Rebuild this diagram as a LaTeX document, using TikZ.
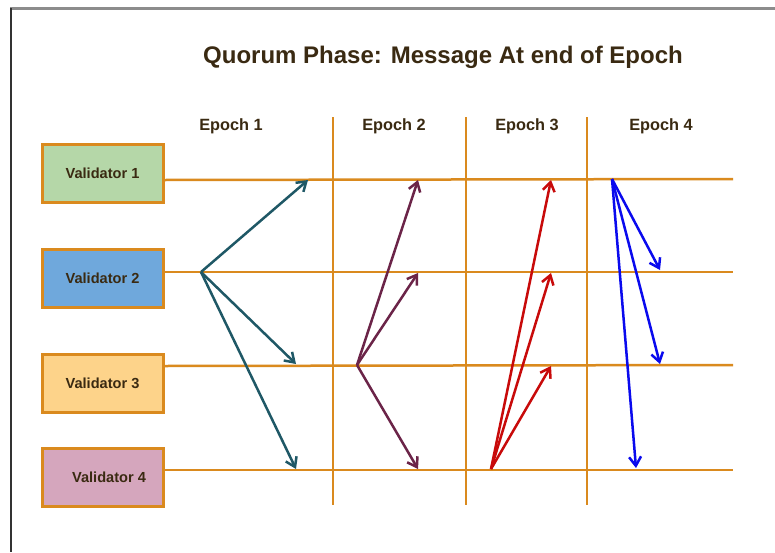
\documentclass[tikz,border=0pt]{standalone}
\usepackage{fontspec}
\setmainfont{Liberation Sans}
\usetikzlibrary{arrows.meta}
\definecolor{lane}{HTML}{DA8A1E}
\definecolor{txt}{HTML}{3A2A12}
\definecolor{cteal}{HTML}{1F5866}
\definecolor{cpurp}{HTML}{6B2448}
\definecolor{cred}{HTML}{C80A0A}
\definecolor{cblue}{HTML}{0A0AEE}
\definecolor{fa}{HTML}{B5D7A8}
\definecolor{fb}{HTML}{6FA8DC}
\definecolor{fc}{HTML}{FDD38A}
\definecolor{fd}{HTML}{D5A6BD}
\tikzset{
  valbox/.style={draw=lane, line width=3pt, minimum width=121pt, minimum height=58pt, inner sep=0pt, font=\bfseries\fontsize{14.6}{17}\selectfont, text=txt},
  laneline/.style={draw=lane, line width=2.5pt},
  epochlbl/.style={font=\bfseries\fontsize{16.3}{19}\selectfont, text=txt},
  msg/.style={line width=2.5pt, -{Straight Barb[length=9pt,width=12pt,line width=2.5pt]}},
}
\begin{document}
\begin{tikzpicture}[x=1pt,y=-1pt]
\useasboundingbox (0,0) rectangle (775,552);
\fill[white] (0,0) rectangle (775,552);
\draw[draw=gray!90, line width=3pt] (10,8) -- (775,8);
\draw[draw=black!80, line width=1.5pt] (11,8) -- (11,552);
\node[font=\bfseries\fontsize{24}{28}\selectfont, text=txt] (title) at (443,57) {Quorum Phase: Message At end of Epoch};
\node[epochlbl] (e1) at (231,126) {Epoch 1};
\node[epochlbl] (e2) at (394,126) {Epoch 2};
\node[epochlbl] (e3) at (527,126) {Epoch 3};
\node[epochlbl] (e4) at (661,126) {Epoch 4};
% vertical separators
\coordinate (s1t) at (333,117); \coordinate (s1b) at (333,505);
\coordinate (s2t) at (466,117); \coordinate (s2b) at (466,505);
\coordinate (s3t) at (587,117); \coordinate (s3b) at (587,505);
\draw[laneline] (s1t) -- (s1b);
\draw[laneline] (s2t) -- (s2b);
\draw[laneline] (s3t) -- (s3b);
% validators
\node[valbox, fill=fa] (v1) at (102.5,173) {Validator 1};
\node[valbox, fill=fb] (v2) at (102.5,278.5) {Validator 2};
\node[valbox, fill=fc] (v3) at (102.5,383) {Validator 3};
\node[valbox, fill=fd] (v4) at (102.5,477) {};
\node[font=\bfseries\fontsize{14.6}{17}\selectfont, text=txt] (v4t) at (109,477) {Validator 4};
% lane end points
\coordinate (l1s) at (163,180); \coordinate (l1e) at (733,179);
\coordinate (l2s) at (163,272); \coordinate (l2e) at (733,272);
\coordinate (l3s) at (163,366); \coordinate (l3e) at (733,365);
\coordinate (l4s) at (163,470); \coordinate (l4e) at (733,470);
\draw[laneline] (l1s) -- (l1e);
\draw[laneline] (l2s) -- (l2e);
\draw[laneline] (l3s) -- (l3e);
\draw[laneline] (l4s) -- (l4e);
% epoch 1
\coordinate (a0) at (201,272);
\coordinate (a1) at (308,180);
\coordinate (a3) at (296,364);
\coordinate (a4) at (296,469);
\draw[msg, cteal] (a0) -- (a1);
\draw[msg, cteal] (a0) -- (a3);
\draw[msg, cteal] (a0) -- (a4);
% epoch 2
\coordinate (b0) at (357,365);
\coordinate (b1) at (418,180);
\coordinate (b2) at (418,273);
\coordinate (b4) at (418,469);
\draw[msg, cpurp] (b0) -- (b1);
\draw[msg, cpurp] (b0) -- (b2);
\draw[msg, cpurp] (b0) -- (b4);
% epoch 3
\coordinate (c0) at (491,469);
\coordinate (c1) at (551,180);
\coordinate (c2) at (551,273);
\coordinate (c3) at (551,366);
\draw[msg, cred] (c0) -- (c1);
\draw[msg, cred] (c0) -- (c2);
\draw[msg, cred] (c0) -- (c3);
% epoch 4
\coordinate (d0) at (612,179);
\coordinate (d2) at (660,270);
\coordinate (d3) at (660,364);
\coordinate (d4) at (636,468);
\draw[msg, cblue] (d0) -- (d2);
\draw[msg, cblue] (d0) -- (d3);
\draw[msg, cblue] (d0) -- (d4);
\end{tikzpicture}
\end{document}
